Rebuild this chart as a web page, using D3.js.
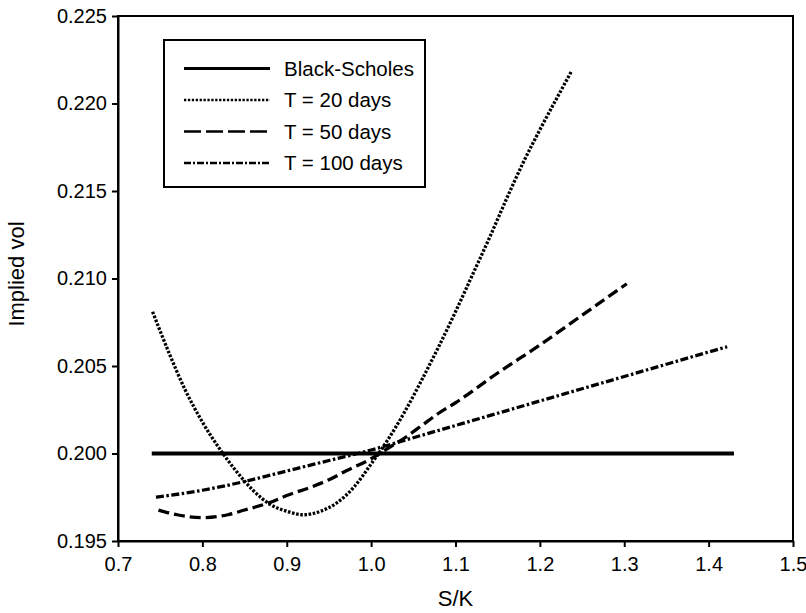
<!DOCTYPE html>
<html>
<head>
<meta charset="utf-8">
<script src="https://cdn.jsdelivr.net/npm/d3@7"></script>
<style>
  body { margin: 0; background: #fff; }
  svg { font-family: "Liberation Sans", Arial, Helvetica, sans-serif; }
  .axis path, .axis line { stroke: #000; stroke-width: 2; }
  .axis text { font-size: 20px; fill: #000; }
</style>
</head>
<body>
<div id="chart"></div>
<script>
// values
var xTicks = [0.7, 0.8, 0.9, 1.0, 1.1, 1.2, 1.3, 1.4, 1.5];
var yTicks = [0.195, 0.200, 0.205, 0.210, 0.215, 0.220, 0.225];

var bsX = [0.74, 1.43];
var bsY = [0.200, 0.200];

var t20X = [0.741, 0.76, 0.78, 0.80, 0.82, 0.84, 0.86, 0.88, 0.90, 0.92, 0.94, 0.96, 0.98,
            1.00, 1.02, 1.04, 1.06, 1.08, 1.10, 1.12, 1.14, 1.16, 1.18, 1.20, 1.22, 1.237];
var t20Y = [0.2081, 0.2058, 0.2036, 0.2018, 0.2003, 0.1990, 0.1979, 0.1971, 0.1967, 0.1965, 0.1967, 0.1972, 0.1981,
            0.1994, 0.2008, 0.2024, 0.2042, 0.2061, 0.2081, 0.2102, 0.2123, 0.2145, 0.2166, 0.2185, 0.2203, 0.2218];

var t50X = [0.748, 0.77, 0.80, 0.83, 0.85, 0.88, 0.90, 0.93, 0.95, 0.97, 1.00, 1.02, 1.04,
            1.06, 1.08, 1.10, 1.15, 1.20, 1.25, 1.303];
var t50Y = [0.19677, 0.1965, 0.19633, 0.1965, 0.19677, 0.1972, 0.1976, 0.1981, 0.1985, 0.1990, 0.1997, 0.2003, 0.2009,
            0.2016, 0.2023, 0.2029, 0.2046, 0.2062, 0.2079, 0.2097];

var t100X = [0.745, 0.80, 0.85, 0.90, 0.95, 1.00, 1.05, 1.10, 1.15, 1.20, 1.25, 1.30, 1.35, 1.40, 1.422];
var t100Y = [0.1975, 0.1979, 0.1984, 0.1990, 0.1996, 0.2002, 0.2009, 0.2016, 0.2023, 0.2030, 0.2037, 0.2044, 0.2051, 0.2058, 0.2061];

var seriesNames = ["Black-Scholes", "T = 20 days", "T = 50 days", "T = 100 days"];

var svg_width = 806;
var svg_height = 613;
var margin = {top: 16, right: 13, bottom: 72, left: 118};
var width = svg_width - margin.left - margin.right;
var height = svg_height - margin.top - margin.bottom;

var svg = d3.select("#chart")
  .append("svg")
  .attr("width", svg_width)
  .attr("height", svg_height);

var g = svg.append("g")
  .attr("transform", "translate(" + margin.left + "," + margin.top + ")");

var x = d3.scaleLinear().domain([0.7, 1.5]).range([0, width]);
var y = d3.scaleLinear().domain([0.195, 0.225]).range([height, 0]);

// frame
g.append("rect")
  .attr("width", width)
  .attr("height", height)
  .attr("fill", "none")
  .attr("stroke", "#000")
  .attr("stroke-width", 2);

g.append("g")
  .attr("class", "axis")
  .attr("transform", "translate(0," + height + ")")
  .call(d3.axisBottom(x).tickValues(xTicks).tickFormat(d3.format(".1f")).tickSize(6).tickSizeOuter(0).tickPadding(10));

g.append("g")
  .attr("class", "axis")
  .call(d3.axisLeft(y).tickValues(yTicks).tickFormat(d3.format(".3f")).tickSize(6).tickSizeOuter(0).tickPadding(5));

// axis titles
svg.append("text")
  .attr("x", margin.left + width / 2)
  .attr("y", 606)
  .attr("text-anchor", "middle")
  .style("font-size", "22px")
  .text("S/K");

svg.append("text")
  .attr("transform", "translate(24," + 274 + ") rotate(-90)")
  .attr("text-anchor", "middle")
  .style("font-size", "22px")
  .text("Implied vol");

var styles = [
  {xs: bsX, ys: bsY, dash: null, w: 3.8},
  {xs: t20X, ys: t20Y, dash: "2.6,1.6", w: 3.3},
  {xs: t50X, ys: t50Y, dash: "11,5", w: 3.3},
  {xs: t100X, ys: t100Y, dash: "8,2.5,2.5,2.5", w: 3.3}
];

var line = d3.line()
  .x(function(d) { return x(d[0]); })
  .y(function(d) { return y(d[1]); })
  .curve(d3.curveMonotoneX);

styles.forEach(function(s) {
  var pts = s.xs.map(function(v, i) { return [v, s.ys[i]]; });
  g.append("path")
    .datum(pts)
    .attr("d", line)
    .attr("fill", "none")
    .attr("stroke", "#000")
    .attr("stroke-width", s.w)
    .attr("stroke-dasharray", s.dash);
});

// legend
var legend = svg.append("g").attr("transform", "translate(164,40)");
legend.append("rect")
  .attr("width", 261)
  .attr("height", 147)
  .attr("fill", "#fff")
  .attr("stroke", "#000")
  .attr("stroke-width", 2);

var legendDash = [null, "2.3,1.6", "17,5", "7,2,2,2"];
seriesNames.forEach(function(name, i) {
  var ly = 28.5 + i * 31.5;
  legend.append("line")
    .attr("x1", 20).attr("x2", 106)
    .attr("y1", ly).attr("y2", ly)
    .attr("stroke", "#000")
    .attr("stroke-width", i == 0 ? 3 : 2.5)
    .attr("stroke-dasharray", legendDash[i]);
  legend.append("text")
    .attr("x", 120)
    .attr("y", ly)
    .attr("dy", ".35em")
    .style("font-size", "20.5px")
    .text(name);
});
</script>
</body>
</html>
